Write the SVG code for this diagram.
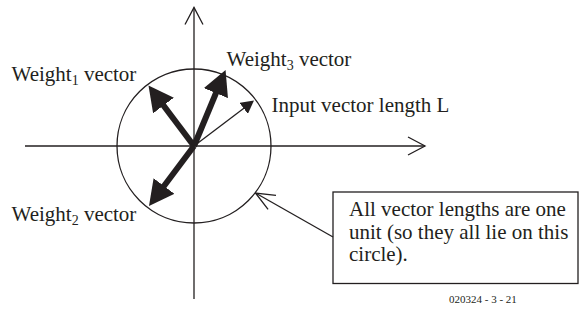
<svg xmlns="http://www.w3.org/2000/svg" width="580" height="320" viewBox="0 0 580 320">
<style>
  .ln { stroke: #231f20; stroke-width: 1.3; fill: none; }
  .thick { stroke: #231f20; stroke-width: 6; fill: none; stroke-linecap: butt; }
  .thin { stroke: #231f20; stroke-width: 1.3; fill: none; }
  text { font-family: "Liberation Serif", "Times New Roman", serif; font-size: 21px; fill: #231f20; }
  .sub { font-size: 14px; }
  .small { font-size: 11px; }
</style>
<defs>
  <marker id="openArrow" markerUnits="userSpaceOnUse" viewBox="-1 -1 20 20" refX="17" refY="9" markerWidth="20" markerHeight="20" orient="auto">
    <path d="M0,0 L17,9 L0,18" fill="none" stroke="#231f20" stroke-width="1.3"/>
  </marker>
  <marker id="pointArrow" markerUnits="userSpaceOnUse" viewBox="-1 -1 21 19" refX="19" refY="8" markerWidth="21" markerHeight="19" orient="auto">
    <path d="M0,0 L19,8 L0,16" fill="none" stroke="#231f20" stroke-width="1.3"/>
  </marker>
  <marker id="thickHead" markerUnits="userSpaceOnUse" viewBox="0 0 25 26" refX="10" refY="13" markerWidth="25" markerHeight="26" orient="auto">
    <path d="M0,0 L25,13 L0,26 z" fill="#231f20"/>
  </marker>
  <marker id="thinHead" markerUnits="userSpaceOnUse" viewBox="0 0 13 14" refX="9" refY="7" markerWidth="13" markerHeight="14" orient="auto">
    <path d="M0,0 L13,7 L0,14 z" fill="#231f20"/>
  </marker>
</defs>

<g id="axes">
  <line class="ln" x1="194" y1="299" x2="194" y2="7.5" marker-end="url(#openArrow)"/>
  <line class="ln" x1="25" y1="146" x2="425" y2="146" marker-end="url(#openArrow)"/>
</g>

<g id="unit-circle">
  <circle class="ln" cx="194" cy="146" r="77"/>
</g>

<g id="connectors">
  <line class="thick" x1="194" y1="146" x2="157.5" y2="97.5" marker-end="url(#thickHead)"/>
  <line class="thick" x1="194" y1="146" x2="219.8" y2="83.9" marker-end="url(#thickHead)"/>
  <line class="thick" x1="194" y1="146" x2="158" y2="194" marker-end="url(#thickHead)"/>
  <line class="thin" x1="194" y1="146" x2="250.8" y2="102.9" marker-end="url(#thinHead)"/>
  <line class="ln" x1="333" y1="237" x2="255.5" y2="193" marker-end="url(#pointArrow)"/>
</g>

<g id="label-weight1">
  <text x="11.5" y="80.5">Weight<tspan class="sub" dy="4">1</tspan><tspan dy="-4"> vector</tspan></text>
</g>
<g id="label-weight2">
  <text x="11.5" y="221">Weight<tspan class="sub" dy="4">2</tspan><tspan dy="-4"> vector</tspan></text>
</g>
<g id="label-weight3">
  <text x="226.5" y="66">Weight<tspan class="sub" dy="4">3</tspan><tspan dy="-4"> vector</tspan></text>
</g>
<g id="label-input">
  <text x="271.5" y="111.5">Input vector length L</text>
</g>

<g id="note">
  <rect class="ln" x="333" y="192" width="245" height="91.5"/>
  <text x="349" y="216">All vector lengths are one</text>
  <text x="349" y="239">unit (so they all lie on this</text>
  <text x="349" y="261">circle).</text>
</g>

<g id="figure-number">
  <text class="small" x="449" y="303">020324 - 3 - 21</text>
</g>
</svg>
